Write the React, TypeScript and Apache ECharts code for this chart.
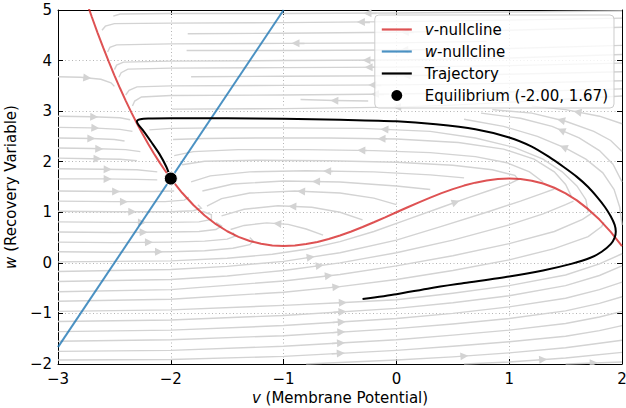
import React, { useEffect, useRef } from 'react';
import * as echarts from 'echarts';

const FONT = 'DejaVu Sans';
const FS = 15;

// v-nullcline (red)
const vNullcline: number[][] = [
  [-2.75, 5.18], [-2.7, 4.861], [-2.65, 4.553], [-2.6, 4.259], [-2.55, 3.977], [-2.5, 3.708],
  [-2.45, 3.452], [-2.4, 3.208], [-2.35, 2.976], [-2.3, 2.756], [-2.25, 2.547], [-2.2, 2.349],
  [-2.15, 2.163], [-2.1, 1.987], [-2.05, 1.822], [-2.0, 1.667], [-1.9, 1.386], [-1.8, 1.144],
  [-1.7, 0.938], [-1.6, 0.765], [-1.5, 0.625], [-1.4, 0.515], [-1.3, 0.432], [-1.2, 0.376],
  [-1.1, 0.344], [-1.0, 0.333], [-0.9, 0.343], [-0.8, 0.371], [-0.7, 0.414], [-0.6, 0.472],
  [-0.5, 0.542], [-0.4, 0.621], [-0.3, 0.709], [-0.2, 0.803], [-0.1, 0.9], [0, 1.0],
  [0.1, 1.1], [0.2, 1.197], [0.3, 1.291], [0.4, 1.379], [0.5, 1.458], [0.6, 1.528],
  [0.7, 1.586], [0.8, 1.629], [0.9, 1.657], [1.0, 1.667], [1.1, 1.656], [1.2, 1.624],
  [1.3, 1.568], [1.4, 1.485], [1.5, 1.375], [1.6, 1.235], [1.7, 1.062], [1.8, 0.856],
  [1.9, 0.614], [2.0, 0.333],
];

// w-nullcline (blue straight line)
const wNullcline: number[][] = [[-3, -1.667], [-1, 5]];

// trajectory (black)
const trajectory: number[][] = [
  [-0.3, -0.715], [0, -0.62], [0.3, -0.5], [0.6, -0.4], [1.0, -0.27], [1.3, -0.15], [1.55, -0.02],
  [1.72, 0.1], [1.82, 0.22], [1.9, 0.37], [1.935, 0.5], [1.945, 0.62], [1.935, 0.75], [1.9, 0.92],
  [1.85, 1.1], [1.78, 1.3], [1.7, 1.5], [1.6, 1.7], [1.48, 1.9], [1.35, 2.1], [1.2, 2.3], [1.0, 2.48],
  [0.7, 2.64], [0.35, 2.74], [0, 2.8], [-0.5, 2.83], [-1.0, 2.85], [-1.5, 2.86], [-2.0, 2.86],
  [-2.2, 2.855], [-2.27, 2.84], [-2.3, 2.8], [-2.29, 2.74], [-2.24, 2.6], [-2.17, 2.38], [-2.1, 2.15],
  [-2.04, 1.9], [-2.0, 1.667],
];

const equilibrium: number[] = [-2.0, 1.667];

// background streamlines (each listed in the direction of flow)
const upperStreams: number[][][] = [
  [[2, 4.98], [1, 4.96], [0, 4.94], [-1, 4.93], [-2, 4.93], [-2.45, 4.92], [-2.51, 4.88]],
  [[2, 4.84], [1, 4.8], [0, 4.77], [-1, 4.75], [-2, 4.74], [-2.5, 4.73], [-2.58, 4.68], [-2.61, 4.6]],
  [[2, 4.66], [1, 4.6], [0, 4.56], [-1, 4.54], [-1.85, 4.53]],
  [[0.8, 4.38], [0, 4.35], [-1, 4.34], [-2, 4.33], [-2.48, 4.31], [-2.54, 4.26], [-2.56, 4.17]],
  [[2, 4.3], [1, 4.24], [0, 4.21], [-1, 4.2], [-1.86, 4.2]],
  [[2, 4.12], [1, 4.05], [0, 4.01], [-1, 4.0], [-2, 3.99], [-2.42, 3.97], [-2.48, 3.91], [-2.5, 3.82]],
  [[2, 3.95], [1, 3.9], [0, 3.87], [-1, 3.86], [-2, 3.85], [-2.38, 3.83], [-2.44, 3.76], [-2.46, 3.67]],
  [[2, 3.78], [1, 3.73], [0, 3.7], [-1, 3.69], [-1.82, 3.68]],
  [[2, 3.6], [1, 3.55], [0, 3.52], [-1, 3.51], [-2, 3.5], [-2.3, 3.48], [-2.37, 3.41], [-2.4, 3.32]],
  [[2, 3.44], [1, 3.38], [0, 3.34], [-1, 3.32], [-2, 3.31], [-2.26, 3.28], [-2.32, 3.2], [-2.34, 3.1]],
  [[-0.25, 3.2], [-0.55, 3.21], [-0.85, 3.23]],
  [[2, 3.3], [1.2, 3.2], [0.5, 3.12], [0, 3.08], [-1, 3.05], [-1.99, 3.04]],
];

const rightStreams: number[][][] = [
  [[2, 0.75], [1.98, 1.1], [1.93, 1.45], [1.83, 1.78], [1.68, 2.05], [1.5, 2.27], [1.25, 2.5], [0.95, 2.7], [0.6, 2.84]],
  [[2, 1.6], [1.92, 1.95], [1.8, 2.22], [1.62, 2.47], [1.38, 2.7], [1.1, 2.86], [0.75, 2.96]],
  [[2, 2.2], [1.9, 2.42], [1.75, 2.6], [1.5, 2.8], [1.2, 2.96], [0.85, 3.03]],
  [[2, 2.75], [1.8, 2.9], [1.5, 3.03], [1.2, 3.1]],
];

const leftStreams: number[][][] = [
  [[-3, 3.68], [-2.8, 3.67], [-2.62, 3.63], [-2.53, 3.56], [-2.5, 3.49]],
  [[-3, 2.9], [-2.7, 2.89], [-2.45, 2.87], [-2.36, 2.83]],
  [[-3, 2.68], [-2.7, 2.67], [-2.45, 2.64], [-2.34, 2.6]],
  [[-3, 2.47], [-2.7, 2.46], [-2.5, 2.44], [-2.41, 2.41]],
  [[-3, 2.27], [-2.7, 2.26], [-2.4, 2.24], [-2.27, 2.2]],
  [[-3, 2.07], [-2.7, 2.06], [-2.45, 2.05], [-2.3, 2.02]],
  [[-3, 1.86], [-2.6, 1.85], [-2.3, 1.84], [-2.12, 1.8]],
  [[-3, 1.66], [-2.6, 1.66], [-2.3, 1.65], [-2.12, 1.64]],
];

const belowEqStreams: number[][][] = [
  [[-3, 1.42], [-2.5, 1.41], [-2.15, 1.41], [-1.97, 1.42]],
  [[-3, 1.22], [-2.5, 1.21], [-2.05, 1.21], [-1.88, 1.24], [-1.84, 1.3]],
  [[-3, 1.02], [-2.5, 1.01], [-2.0, 1.01], [-1.8, 1.03], [-1.73, 1.08], [-1.76, 1.15]],
  [[-3, 0.81], [-2.5, 0.8], [-2.0, 0.8], [-1.75, 0.81], [-1.64, 0.86], [-1.64, 0.95], [-1.72, 1.02]],
  [[-3, 0.61], [-2.5, 0.6], [-2.0, 0.61], [-1.75, 0.62], [-1.6, 0.66], [-1.55, 0.73], [-1.6, 0.8]],
  [[-3, 0.41], [-2.5, 0.4], [-2.0, 0.41], [-1.7, 0.43], [-1.5, 0.47], [-1.43, 0.53], [-1.45, 0.6]],
  [[-3, 0.22], [-2.5, 0.21], [-2.0, 0.22], [-1.7, 0.24], [-1.45, 0.29], [-1.3, 0.36], [-1.27, 0.43], [-1.3, 0.5]],
];

const lowerStreams: number[][][] = [
  [[-3, 0.02], [-2, 0.04], [-1.5, 0.09], [-1.1, 0.17], [-0.8, 0.27], [-0.5, 0.42], [-0.2, 0.62], [0.1, 0.86],
    [0.4, 1.1], [0.65, 1.3], [0.85, 1.45], [1.0, 1.56], [1.08, 1.65], [1.05, 1.73], [0.85, 1.84], [0.5, 1.93],
    [0, 1.99], [-0.6, 2.02], [-1.2, 2.03], [-1.7, 2.01], [-1.9, 1.94]],
  [[-3, -0.17], [-2, -0.13], [-1.5, -0.07], [-1, 0.03], [-0.5, 0.2], [0, 0.45], [0.4, 0.72], [0.8, 1.0], [1.1, 1.22], [1.3, 1.38], [1.4, 1.46]],
  [[-3, -0.37], [-2, -0.33], [-1.5, -0.26], [-1, -0.15], [-0.5, 0.0], [0, 0.2], [0.5, 0.45], [1.0, 0.75], [1.3, 0.97], [1.5, 1.15], [1.57, 1.22]],
  [[-3, -0.57], [-2, -0.53], [-1, -0.36], [-0.5, -0.23], [0, -0.06], [0.5, 0.14], [1.0, 0.38], [1.4, 0.62], [1.65, 0.86], [1.73, 0.98]],
  [[-3, -0.76], [-2, -0.72], [-1, -0.58], [-0.5, -0.47], [0, -0.33], [0.5, -0.15], [1.0, 0.06], [1.4, 0.28], [1.7, 0.52], [1.82, 0.72], [1.84, 0.8]],
  [[-3, -0.96], [-2, -0.93], [-1, -0.84], [-0.5, -0.79], [0, -0.73], [0.5, -0.6], [1.0, -0.45], [1.5, -0.24], [1.8, -0.02], [2, 0.18]],
  [[-3, -1.16], [-2, -1.13], [-1, -1.04], [0, -0.9], [0.5, -0.79], [1.0, -0.65], [1.5, -0.45], [1.8, -0.25], [2, -0.06]],
  [[-3, -1.36], [-2, -1.33], [-1, -1.24], [0, -1.1], [0.5, -1.0], [1, -0.87], [1.5, -0.7], [1.8, -0.53], [2, -0.38]],
  [[-3, -1.55], [-2, -1.52], [-1, -1.44], [0, -1.3], [0.5, -1.21], [1, -1.1], [1.5, -0.95], [1.8, -0.8], [2, -0.67]],
  [[-3, -1.75], [-2, -1.73], [-1, -1.65], [0, -1.52], [0.5, -1.43], [1, -1.33], [1.5, -1.2], [1.8, -1.07], [2, -0.96]],
  [[-3, -1.92], [-2, -1.91], [-1, -1.85], [0, -1.73], [0.5, -1.65], [1, -1.56], [1.5, -1.45], [1.8, -1.34], [2, -1.24]],
  [[-0.8, -2.0], [0, -1.92], [0.5, -1.86], [1, -1.78], [1.5, -1.68], [2, -1.53]],
  [[0.6, -2.0], [1, -1.96], [1.5, -1.88], [2, -1.77]],
  [[1.5, -2.0], [2, -1.96]],
];

const innerStreams: number[][][] = [
  [[1.7, 1.0], [1.68, 1.25], [1.6, 1.52], [1.47, 1.8], [1.3, 2.05], [1.05, 2.28], [0.7, 2.47], [0.3, 2.6], [-0.3, 2.66], [-1, 2.67], [-1.6, 2.67], [-2.0, 2.66], [-2.19, 2.63]],
  [[1.55, 1.32], [1.5, 1.55], [1.4, 1.8], [1.22, 2.05], [0.95, 2.25], [0.55, 2.38], [0, 2.45], [-0.6, 2.47], [-1.2, 2.47], [-1.7, 2.46], [-1.98, 2.44]],
  [[1.3, 1.6], [1.18, 1.8], [0.98, 1.98], [0.7, 2.1], [0.3, 2.18], [-0.2, 2.22], [-0.8, 2.24], [-1.4, 2.24], [-1.8, 2.2], [-1.97, 2.12]],
  [[0.6, 1.68], [0.3, 1.74], [-0.2, 1.8], [-0.8, 1.82], [-1.3, 1.8], [-1.65, 1.72], [-1.82, 1.6]],
  [[0.3, 1.45], [0, 1.52], [-0.5, 1.6], [-1.0, 1.62], [-1.45, 1.56], [-1.72, 1.42]],
  [[0.0, 1.15], [-0.2, 1.28], [-0.5, 1.38], [-0.9, 1.42], [-1.3, 1.38], [-1.55, 1.27], [-1.68, 1.12]],
  [[-0.3, 0.85], [-0.5, 1.0], [-0.75, 1.1], [-1.05, 1.13], [-1.35, 1.06], [-1.55, 0.93]],
  [[-0.65, 0.55], [-0.8, 0.67], [-0.96, 0.76], [-1.15, 0.79], [-1.35, 0.74], [-1.47, 0.66]],
];

const allStreams = [
  ...upperStreams, ...rightStreams, ...leftStreams, ...belowEqStreams, ...lowerStreams, ...innerStreams,
];

// arrowhead at the middle (by length) of each streamline
function arrowOf(line: number[][]): number[][] {
  const sx = 112.8, sy = 50.57;
  const seg: number[] = [];
  let total = 0;
  for (let i = 1; i < line.length; i++) {
    const d = Math.hypot((line[i][0] - line[i - 1][0]) * sx, (line[i][1] - line[i - 1][1]) * sy);
    seg.push(d);
    total += d;
  }
  let half = total / 2;
  let i = 0;
  while (i < seg.length - 1 && half > seg[i]) { half -= seg[i]; i++; }
  const a = line[i], b = line[i + 1];
  const t = seg[i] > 0 ? half / seg[i] : 0;
  const mid = [a[0] + (b[0] - a[0]) * t, a[1] + (b[1] - a[1]) * t];
  const start = [mid[0] - (b[0] - a[0]) * 0.08, mid[1] - (b[1] - a[1]) * 0.08];
  return [start, mid];
}

const STREAM = '#d3d3d3';
const RED = 'rgba(214,39,40,0.8)';
const BLUE = 'rgba(31,119,180,0.8)';
const LINE_ICON = 'path://M0,0H30V2.2H0Z';

const fmt = (v: number) => (v < 0 ? '\u2212' + Math.abs(v) : String(v));

export default function App() {
  const ref = useRef<HTMLDivElement>(null);
  useEffect(() => {
    if (!ref.current) return;
    const chart = echarts.init(ref.current, undefined, { renderer: 'svg' });
    const axisCommon = {
      type: 'value' as const,
      axisLine: { show: true, onZero: false, lineStyle: { color: '#000', width: 1 } },
      axisTick: { show: true, inside: true, length: 5, lineStyle: { color: '#000', width: 1 } },
    };
    const nameStyle = {
      fontSize: FS, color: '#000', fontFamily: FONT,
      rich: { i: { fontStyle: 'italic', fontSize: FS, color: '#000', fontFamily: FONT } },
    };
    const labelStyle = { color: '#000', fontSize: FS, fontFamily: FONT, formatter: fmt };
    const grid = { show: true, lineStyle: { type: [1, 2.5], color: '#b5b5b5', width: 1 } };
    chart.setOption({
      animation: false,
      grid: { left: 58, right: 4, top: 10, bottom: 44, containLabel: false, outerBoundsMode: 'none' },
      xAxis: [
        {
          ...axisCommon, position: 'bottom', min: -3, max: 2, interval: 1,
          axisLabel: { ...labelStyle, margin: 7 },
          splitLine: grid,
          name: '{i|v} (Membrane Potential)', nameLocation: 'middle', nameGap: 24, nameTextStyle: nameStyle,
        },
        {
          ...axisCommon, position: 'top', min: -3, max: 2, interval: 1,
          axisLabel: { show: false }, splitLine: { show: false },
        },
      ],
      yAxis: [
        {
          ...axisCommon, position: 'left', min: -2, max: 5, interval: 1,
          axisLabel: { ...labelStyle, margin: 6 },
          splitLine: grid,
          name: '{i|w} (Recovery Variable)', nameLocation: 'middle', nameGap: 33, nameTextStyle: nameStyle,
        },
        {
          ...axisCommon, position: 'right', min: -2, max: 5, interval: 1,
          axisLabel: { show: false }, splitLine: { show: false },
        },
      ],
      legend: {
        orient: 'vertical', right: 12, top: 15,
        itemWidth: 30, itemHeight: 13, itemGap: 7,
        padding: [7, 6, 5, 7],
        backgroundColor: 'rgba(255,255,255,0.8)', borderColor: '#cccccc', borderWidth: 1, borderRadius: 4,
        data: [
          { name: 'v-nullcline', icon: LINE_ICON },
          { name: 'w-nullcline', icon: LINE_ICON },
          { name: 'Trajectory', icon: LINE_ICON },
          { name: 'Equilibrium (-2.00, 1.67)', icon: 'circle' },
        ],
        formatter: (n: string) => (n === 'v-nullcline' ? '{i|v}-nullcline' : n === 'w-nullcline' ? '{i|w}-nullcline' : n),
        textStyle: {
          fontSize: FS, fontFamily: FONT, color: '#000', padding: [0, 0, 0, 8],
          rich: { i: { fontStyle: 'italic', fontSize: FS, fontFamily: FONT, color: '#000' } },
        },
      },
      series: [
        {
          type: 'lines', coordinateSystem: 'cartesian2d', polyline: true, silent: true, z: 1,
          data: allStreams.map((s) => ({ coords: s })),
          lineStyle: { color: STREAM, width: 1.4, opacity: 1 },
        },
        {
          type: 'lines', coordinateSystem: 'cartesian2d', silent: true, z: 1,
          data: allStreams.map((s) => ({ coords: arrowOf(s) })),
          symbol: ['none', 'triangle'], symbolSize: 8,
          lineStyle: { color: STREAM, width: 1.4, opacity: 1 },
        },
        {
          name: 'v-nullcline', type: 'line', data: vNullcline, showSymbol: false, symbol: 'none', z: 3,
          lineStyle: { color: RED, width: 2 }, itemStyle: { color: RED },
        },
        {
          name: 'w-nullcline', type: 'line', data: wNullcline, showSymbol: false, symbol: 'none', z: 3,
          lineStyle: { color: BLUE, width: 2 }, itemStyle: { color: BLUE },
        },
        {
          name: 'Trajectory', type: 'line', data: trajectory, showSymbol: false, symbol: 'none', z: 4,
          smooth: 0.25, lineStyle: { color: '#000', width: 2 }, itemStyle: { color: '#000' },
        },
        {
          name: 'Equilibrium (-2.00, 1.67)', type: 'scatter', data: [equilibrium], symbolSize: 13, z: 5,
          itemStyle: { color: '#000', borderColor: '#fff', borderWidth: 1, opacity: 1 },
        },
      ],
    });
    return () => chart.dispose();
  }, []);
  return <div ref={ref} style={{ position: 'absolute', left: 0, top: 0, width: 626, height: 408 }} />;
}
